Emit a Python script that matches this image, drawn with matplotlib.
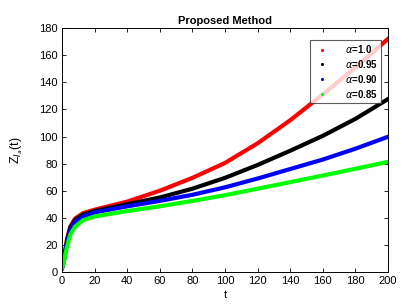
import matplotlib.pyplot as plt
from matplotlib.lines import Line2D

plt.rcParams['font.family'] = ['Liberation Sans', 'DejaVu Sans']

# time points
t = [0, 1, 2, 3, 5, 8, 13, 20, 40, 60, 80, 100, 120, 140, 160, 180, 200]

z_10 = [3, 8, 16, 24, 33.5, 39.5, 43.5, 46, 52, 60, 69.5, 80.5, 95, 112, 131, 151, 172]
z_095 = [3, 8, 15.5, 23, 32.5, 38.5, 42.5, 45, 50, 55, 61.5, 69.5, 79, 89.5, 100.5, 113, 127.6]
z_090 = [3, 7.5, 14.5, 21.5, 31, 37, 41, 44, 48.5, 52.5, 57, 62.5, 69, 76, 83, 91, 99.8]
z_085 = [3, 7, 13, 18.5, 27.5, 33.5, 38.3, 41, 45, 48.5, 52.5, 56.7, 61.5, 66.3, 71.2, 76.2, 81.3]

labels = [r'$\alpha$=1.0', r'$\alpha$=0.95', r'$\alpha$=0.90', r'$\alpha$=0.85']
colors = ['#ff0000', '#000000', '#0000ff', '#00ff00']

fig = plt.figure(figsize=(4.11, 3.05), dpi=100)
ax = fig.add_axes([0.151, 0.108, 0.793, 0.800])

for z, c in zip([z_10, z_095, z_090, z_085], colors):
    ax.plot(t, z, color=c, linewidth=3.0, solid_joinstyle='round')

handles = [Line2D([], [], color=c, marker='.', markersize=2.5, linestyle='none') for c in colors]
leg = ax.legend(handles, labels, loc='upper right', frameon=True, fancybox=False,
                edgecolor='#333333', handlelength=1.6, handletextpad=1.6, borderpad=0.35,
                labelspacing=0.3, prop={'size': 7, 'weight': 'bold'},
                bbox_to_anchor=(0.994, 0.973))
leg.get_frame().set_linewidth(0.8)

ax.set_xlim(0, 200)
ax.set_ylim(0, 180)
ax.set_xticks(range(0, 201, 20))
ax.set_yticks(range(0, 181, 20))
ax.tick_params(direction='in', top=True, right=True, labelsize=8, length=3, width=0.6, pad=3)
for s in ax.spines.values():
    s.set_linewidth(0.7)

ax.set_title('Proposed Method', fontsize=8, fontweight='bold', pad=3)
ax.set_xlabel('t', fontsize=8, labelpad=3)
ax.set_ylabel(r'Z$_{I_a}$(t)', fontsize=9, labelpad=10)

fig.savefig('out.png', dpi=100)
